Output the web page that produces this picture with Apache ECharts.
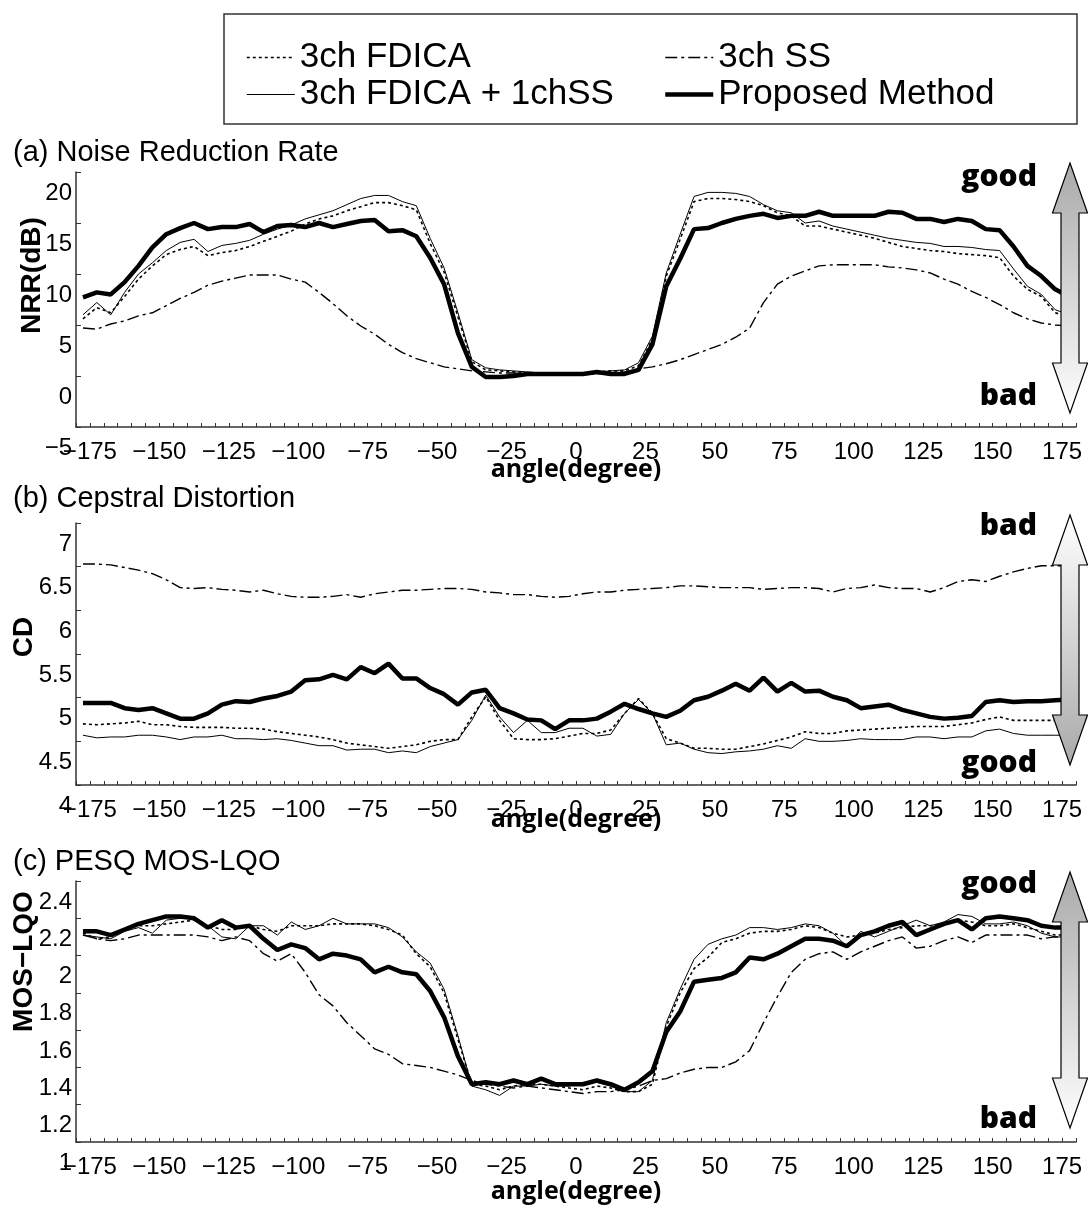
<!DOCTYPE html>
<html>
<head>
<meta charset="utf-8">
<script src="https://cdn.jsdelivr.net/npm/echarts@6/dist/echarts.min.js"></script>
<style>
html,body{margin:0;padding:0;background:#fff;}
#chart{width:1088px;height:1207px;}
</style>
</head>
<body>
<div id="chart"></div>
<script>
// ---------- data ----------
const angles = [-180,-175,-170,-165,-160,-155,-150,-145,-140,-135,-130,-125,-120,-115,-110,-105,-100,-95,-90,-85,
  -80,-75,-70,-65,-60,-55,-50,-45,-40,-35,-30,-25,-20,-15,-10,-5,0,5,10,15,
  20,25,30,35,40,45,50,55,60,65,70,75,80,85,90,95,100,105,110,115,
  120,125,130,135,140,145,150,155,160,165,170,175];
const xTickLabels = [-175,-150,-125,-100,-75,-50,-25,0,25,50,75,100,125,150,175];
const seriesNames = ['3ch FDICA','3ch FDICA + 1chSS','3ch SS','Proposed Method'];
const panelTitles = ['(a) Noise Reduction Rate','(b) Cepstral Distortion','(c) PESQ MOS-LQO'];
const yNames = ['NRR(dB)','CD','MOS\u2212LQO'];

// (a) NRR
const nrrIca = [5.6,6.7,6.2,7.8,9.5,10.8,11.9,12.4,12.7,11.8,
 12.1,12.3,12.7,13.2,13.7,14.2,14.9,15.4,15.7,16.2,
 16.6,17.0,17.0,16.7,16.3,13.0,10.2,5.8,1.4,0.6,
 0.5,0.4,0.3,0.3,0.3,0.3,0.3,0.4,0.5,0.5,
 1.0,3.6,9.8,13.4,17.1,17.4,17.4,17.3,17.1,16.7,
 16.0,15.7,14.7,14.7,14.4,14.1,13.8,13.5,13.1,12.7,
 12.5,12.3,12.2,12.0,11.9,11.8,11.6,9.8,8.5,7.8,
 6.2,5.8];
const nrrIcaSS = [6.0,7.2,6.0,8.2,10.0,11.1,12.3,13.1,13.4,12.2,
 12.8,13.0,13.3,13.9,14.4,14.8,15.4,15.8,16.2,16.8,
 17.4,17.7,17.7,17.1,16.7,13.5,10.6,6.2,1.6,0.8,
 0.6,0.5,0.4,0.3,0.3,0.2,0.3,0.4,0.5,0.6,
 1.3,3.9,10.1,13.9,17.6,18.0,18.0,17.9,17.6,16.8,
 16.2,16.0,15.0,15.2,14.7,14.4,14.1,13.8,13.5,13.3,
 13.1,13.0,12.7,12.7,12.6,12.4,12.3,10.5,8.8,8.0,
 6.5,6.0];
const nrrSS = [4.7,4.6,5.1,5.4,5.9,6.2,6.9,7.6,8.2,8.9,
 9.3,9.6,9.9,9.9,9.9,9.5,9.2,8.2,7.1,5.9,
 4.9,4.1,3.1,2.3,1.7,1.3,0.9,0.7,0.5,0.4,
 0.3,0.3,0.2,0.2,0.2,0.2,0.2,0.2,0.3,0.4,
 0.7,0.9,1.2,1.6,2.1,2.6,3.1,3.8,4.7,7.2,
 9.0,9.8,10.3,10.8,10.9,10.9,10.9,10.9,10.7,10.6,
 10.4,10.1,9.5,9.0,8.3,7.7,7.0,6.2,5.6,5.2,
 5.0,4.9];
const nrrProp = [7.7,8.2,8.0,9.2,10.8,12.6,13.9,14.5,15.0,14.4,
 14.6,14.6,14.9,14.1,14.7,14.8,14.6,15.0,14.6,14.9,
 15.2,15.3,14.2,14.3,13.7,11.6,9.0,4.2,0.9,-0.1,
 -0.1,0.0,0.2,0.2,0.2,0.2,0.2,0.4,0.2,0.2,
 0.6,3.1,8.8,11.5,14.4,14.5,15.0,15.4,15.7,15.9,
 15.5,15.7,15.7,16.1,15.7,15.7,15.7,15.7,16.1,16.0,
 15.4,15.4,15.1,15.4,15.2,14.4,14.3,12.7,10.8,9.8,
 8.5,7.8];

// (b) CD
const cdIca = [4.70,4.69,4.70,4.71,4.73,4.69,4.69,4.67,4.66,4.66,
 4.66,4.65,4.65,4.64,4.61,4.59,4.57,4.55,4.52,4.48,
 4.46,4.44,4.42,4.44,4.46,4.50,4.52,4.52,4.78,5.01,
 4.74,4.53,4.52,4.52,4.53,4.56,4.59,4.59,4.63,4.82,
 4.99,4.82,4.53,4.48,4.42,4.42,4.41,4.41,4.44,4.47,
 4.51,4.55,4.61,4.59,4.59,4.62,4.63,4.64,4.65,4.66,
 4.67,4.67,4.67,4.69,4.71,4.75,4.78,4.74,4.74,4.74,
 4.74,4.74];
const cdIcaSS = [4.57,4.54,4.55,4.55,4.57,4.57,4.55,4.52,4.55,4.55,
 4.57,4.53,4.53,4.52,4.53,4.51,4.48,4.45,4.45,4.40,
 4.41,4.41,4.37,4.39,4.37,4.44,4.48,4.52,4.74,5.03,
 4.78,4.60,4.74,4.60,4.60,4.65,4.65,4.56,4.58,4.82,
 4.98,4.82,4.46,4.48,4.41,4.37,4.36,4.38,4.39,4.41,
 4.45,4.42,4.53,4.50,4.50,4.51,4.53,4.52,4.52,4.52,
 4.55,4.55,4.53,4.55,4.55,4.62,4.64,4.59,4.57,4.57,
 4.57,4.57];
const cdSS = [6.53,6.53,6.52,6.49,6.46,6.42,6.35,6.26,6.25,6.26,
 6.24,6.23,6.21,6.23,6.19,6.16,6.15,6.15,6.16,6.18,
 6.15,6.19,6.21,6.23,6.23,6.24,6.25,6.25,6.24,6.21,
 6.20,6.18,6.18,6.16,6.15,6.16,6.19,6.21,6.21,6.23,
 6.24,6.25,6.26,6.28,6.28,6.27,6.26,6.26,6.26,6.24,
 6.25,6.26,6.26,6.25,6.21,6.25,6.26,6.29,6.26,6.25,
 6.25,6.21,6.26,6.33,6.35,6.33,6.39,6.44,6.48,6.51,
 6.51,6.51];
const cdProp = [4.94,4.94,4.94,4.88,4.86,4.88,4.82,4.76,4.76,4.82,
 4.92,4.96,4.95,4.99,5.02,5.07,5.20,5.21,5.26,5.21,
 5.35,5.28,5.39,5.22,5.22,5.11,5.04,4.92,5.06,5.09,
 4.88,4.82,4.75,4.74,4.64,4.74,4.74,4.76,4.84,4.93,
 4.87,4.82,4.78,4.85,4.97,5.01,5.08,5.16,5.08,5.23,
 5.07,5.17,5.07,5.08,5.01,4.97,4.88,4.90,4.92,4.86,
 4.82,4.78,4.76,4.77,4.79,4.95,4.97,4.95,4.96,4.96,
 4.97,4.98];

// (c) PESQ MOS-LQO
const mosIca = [2.12,2.09,2.10,2.14,2.16,2.16,2.17,2.18,2.19,2.16,
 2.14,2.14,2.16,2.14,2.13,2.16,2.16,2.16,2.17,2.17,
 2.17,2.16,2.14,2.11,2.01,1.94,1.80,1.55,1.31,1.30,
 1.28,1.30,1.31,1.31,1.30,1.29,1.28,1.30,1.29,1.27,
 1.27,1.31,1.62,1.80,1.93,1.99,2.07,2.09,2.12,2.13,
 2.13,2.14,2.16,2.15,2.12,2.10,2.11,2.12,2.14,2.15,
 2.16,2.16,2.17,2.19,2.18,2.16,2.16,2.17,2.15,2.13,
 2.11,2.11];
const mosIcaSS = [2.11,2.10,2.09,2.13,2.15,2.12,2.19,2.20,2.21,2.16,
 2.10,2.09,2.16,2.16,2.11,2.18,2.14,2.16,2.20,2.17,
 2.17,2.17,2.15,2.10,2.02,1.96,1.82,1.57,1.30,1.28,
 1.25,1.30,1.30,1.31,1.30,1.30,1.32,1.32,1.30,1.27,
 1.27,1.33,1.64,1.82,1.98,2.06,2.09,2.11,2.15,2.15,
 2.14,2.15,2.17,2.16,2.12,2.05,2.13,2.10,2.13,2.16,
 2.19,2.16,2.18,2.22,2.21,2.17,2.17,2.18,2.16,2.12,
 2.10,2.10];
const mosSS = [2.11,2.09,2.08,2.09,2.11,2.11,2.11,2.11,2.11,2.10,
 2.08,2.10,2.08,2.01,1.97,2.01,1.91,1.79,1.73,1.64,
 1.57,1.50,1.47,1.42,1.41,1.40,1.38,1.36,1.33,1.31,
 1.30,1.29,1.30,1.29,1.28,1.27,1.26,1.27,1.27,1.28,
 1.30,1.33,1.34,1.37,1.39,1.40,1.40,1.43,1.49,1.64,
 1.78,1.91,1.98,2.01,2.02,1.98,2.02,2.05,2.08,2.10,
 2.04,2.05,2.08,2.10,2.07,2.11,2.11,2.11,2.11,2.09,
 2.10,2.10];
const mosProp = [2.13,2.13,2.11,2.14,2.17,2.19,2.21,2.21,2.20,2.15,
 2.19,2.15,2.16,2.09,2.03,2.06,2.04,1.98,2.01,2.00,
 1.98,1.91,1.94,1.91,1.90,1.81,1.67,1.46,1.31,1.32,
 1.31,1.33,1.31,1.34,1.31,1.31,1.31,1.33,1.31,1.28,
 1.32,1.38,1.59,1.70,1.86,1.87,1.88,1.91,1.99,1.98,
 2.01,2.05,2.09,2.09,2.08,2.05,2.11,2.13,2.16,2.18,
 2.11,2.14,2.17,2.19,2.14,2.20,2.21,2.20,2.19,2.16,
 2.15,2.15];

const yRanges = [[-5,20,5],[4,7,0.5],[1,2.4,0.2]];
const panelData = [
  [nrrIca, nrrIcaSS, nrrSS, nrrProp],
  [cdIca, cdIcaSS, cdSS, cdProp],
  [mosIca, mosIcaSS, mosSS, mosProp]
];
const qualityTop = ['good','bad','good'];
const qualityBottom = ['bad','good','bad'];

panelData.forEach((arr,p)=>arr.forEach((a,k)=>{ if(a.length!==angles.length) throw new Error('length mismatch panel '+p+' series '+k+': '+a.length); }));

// ---------- styling / layout ----------
const FONT = "'Liberation Sans', Arial, sans-serif";
const BOLDF = "'Open Sans', 'Liberation Sans', sans-serif";
const grids = [
  {left:76, top:172, width:1000, height:255},
  {left:76, top:523, width:1000, height:262},
  {left:76, top:881, width:1000, height:261}
];
const titleTops = [133, 479, 842];
const xNameGaps = [30, 22, 37];
const yNameGaps = [30, 38, 38];
const yNameShift = [48, 34, 100];
const lineStyles = [
  {color:'#000', width:1.6, type:[3,3]},
  {color:'#000', width:1},
  {color:'#000', width:1.4, type:[12,4,3,4]},
  {color:'#000', width:4.5}
];
const minus = s => String(s).replace('-', '\u2212');
const axisCol = '#333';

const xAxes = [], yAxes = [], series = [], titles = [];
grids.forEach((g,p)=>{
  titles.push({text:panelTitles[p], left:8, top:titleTops[p],
    textStyle:{fontFamily:FONT, fontSize:29, fontWeight:'normal', color:'#000'}});
  xAxes.push({type:'category', gridIndex:p, data:angles, boundaryGap:true, show:false, position:'bottom'});
  xAxes.push({type:'value', gridIndex:p, min:-180, max:180, interval:5, position:'bottom',
    axisLine:{show:true, onZero:false, lineStyle:{color:axisCol, width:1.5}},
    axisTick:{show:true, inside:true, length:4, lineStyle:{color:axisCol, width:1}},
    splitLine:{show:false},
    axisLabel:{fontFamily:FONT, fontSize:24, color:'#000', margin:13,
      formatter:v=> xTickLabels.indexOf(v)>=0 ? minus(v) : ''},
    name:'angle(degree)', nameLocation:'middle', nameGap:xNameGaps[p], nameMoveOverlap:false,
    nameTextStyle:{fontFamily:BOLDF, fontSize:25, fontWeight:'bold', color:'#000'}
  });
  const r = yRanges[p];
  yAxes.push({type:'value', gridIndex:p, min:r[0], max:r[1], interval:r[2], position:'left',
    axisLine:{show:true, onZero:false, lineStyle:{color:axisCol, width:1.5}},
    axisTick:{show:true, inside:true, length:5, lineStyle:{color:axisCol, width:1}},
    splitLine:{show:false},
    axisLabel:{fontFamily:FONT, fontSize:24, color:'#000', margin:4, verticalAlign:'top', padding:[9,0,0,0],
      formatter:v=> minus(+v.toFixed(1))},
    name:yNames[p], nameLocation:'middle', nameGap:yNameGaps[p], nameRotate:90, nameMoveOverlap:false,
    nameTextStyle:{fontFamily:FONT, fontSize:28, fontWeight:'bold', color:'#000', padding:[0,0,0,yNameShift[p]]}
  });
  panelData[p].forEach((d,k)=>{
    series.push({type:'line', name:seriesNames[k], xAxisIndex:2*p, yAxisIndex:p, data:d,
      symbol:'none', showSymbol:false, lineStyle:lineStyles[k], z:2+k, animation:false});
  });
});

// arrows + quality labels
const arrowGeo = [[163,213,363,413],[515,565,715,765],[872,922,1078,1128]];
const qualY = [[177,396],[526,763],[884,1119]];
const graphics = [{type:'rect', shape:{x:224,y:14,width:853,height:110}, style:{fill:'none', stroke:'#333', lineWidth:1.5}, z:10}];
arrowGeo.forEach((a,p)=>{
  const cx=1070, hh=17.5, hs=9;
  const pts=[[cx,a[0]],[cx+hh,a[1]],[cx+hs,a[1]],[cx+hs,a[2]],[cx+hh,a[2]],[cx,a[3]],[cx-hh,a[2]],[cx-hs,a[2]],[cx-hs,a[1]],[cx-hh,a[1]]];
  const dark='#a9a9a9', light='#ffffff';
  const top = p===1 ? light : dark, bot = p===1 ? dark : light;
  graphics.push({type:'polygon', shape:{points:pts}, z:100,
    style:{stroke:'#000', lineWidth:1.2,
      fill:{type:'linear', x:0, y:0, x2:0, y2:1, colorStops:[{offset:0,color:top},{offset:1,color:bot}]}}});
  [[qualityTop[p], qualY[p][0]],[qualityBottom[p], qualY[p][1]]].forEach(q=>{
    graphics.push({type:'text', z:100, style:{text:q[0], x:1037, y:q[1], align:'right', verticalAlign:'middle',
      font:"800 30px "+BOLDF, fill:'#000', shadowColor:'rgba(0,0,0,0.45)', shadowBlur:3, shadowOffsetX:2, shadowOffsetY:2}});
  });
});

const legendCommon = {orient:'vertical', top:34, itemWidth:48, itemHeight:14, itemGap:0, selectedMode:false,
  textStyle:{fontFamily:FONT, fontSize:35, lineHeight:37, color:'#000'},
  lineStyle:{width:'inherit', type:'inherit', color:'inherit'},
  itemStyle:{color:'rgba(0,0,0,0)', borderWidth:0, opacity:0}};

const option = {
  backgroundColor:'#fff',
  animation:false,
  title:titles,
  legend:[
    Object.assign({}, legendCommon, {left:241, data:['3ch FDICA','3ch FDICA + 1chSS']}),
    Object.assign({}, legendCommon, {left:658, data:['3ch SS','Proposed Method']})
  ],
  grid:grids,
  xAxis:xAxes,
  yAxis:yAxes,
  series:series,
  graphic:graphics
};
const chart = echarts.init(document.getElementById('chart'), null, {renderer:'canvas'});
chart.setOption(option);
</script>
</body>
</html>
